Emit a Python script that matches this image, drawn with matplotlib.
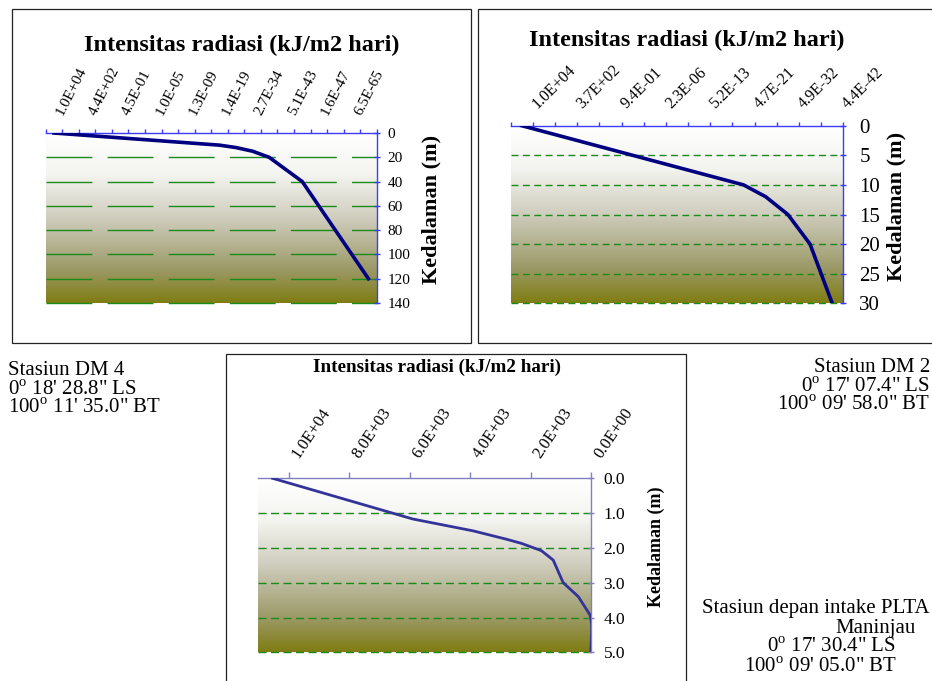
import matplotlib
matplotlib.use("Agg")
import matplotlib.pyplot as plt
from matplotlib.patches import Rectangle
from matplotlib.colors import LinearSegmentedColormap
from matplotlib.transforms import ScaledTranslation
import numpy as np

plt.rcParams["font.family"] = ["Liberation Serif", "DejaVu Serif"]
plt.rcParams["mathtext.fontset"] = "custom"
plt.rcParams["mathtext.rm"] = "Liberation Serif"

# --- data -------------------------------------------------------------
# Stasiun DM 4 (category axis, one category per depth)
dm4_depth = [0, 1, 2, 3, 4, 5, 6, 7, 8, 9, 10, 12, 15, 20, 30, 40, 60, 80, 100, 120]
dm4_labels = ["1.0E+04", "4.4E+02", "4.5E-01", "1.0E-05", "1.3E-09",
              "1.4E-19", "2.7E-34", "5.1E-43", "1.6E-47", "6.5E-65"]
dm4_yticks = [0, 20, 40, 60, 80, 100, 120, 140]

# Stasiun DM 2
dm2_depth = [0, 1, 2, 3, 4, 5, 6, 7, 8, 9, 10, 12, 15, 20, 30]
dm2_labels = ["1.0E+04", "3.7E+02", "9.4E-01", "2.3E-06",
              "5.2E-13", "4.7E-21", "4.9E-32", "4.4E-42"]
dm2_yticks = [0, 5, 10, 15, 20, 25, 30]

# Stasiun depan intake PLTA Maninjau (value axis)
pl_int = [10530, 5890, 3900, 2800, 2300, 1640, 1250, 920, 420, 30, -20, -20, 10]
pl_depth = [0, 1.17, 1.51, 1.75, 1.87, 2.08, 2.35, 3.0, 3.4, 3.93, 4.17, 4.45, 5.0]
pl_xticks = [10000, 8000, 6000, 4000, 2000, 0]
pl_yticks = [0, 1, 2, 3, 4, 5]

title = "Intensitas radiasi (kJ/m2 hari)"
ylab = "Kedalaman (m)"

txt_dm4 = ["Stasiun DM 4", "0$^{\\mathrm{o}}$ 18' 28.8\" LS", "100$^{\\mathrm{o}}$ 11' 35.0\" BT"]
txt_dm2 = ["Stasiun DM 2", "0$^{\\mathrm{o}}$ 17' 07.4\" LS", "100$^{\\mathrm{o}}$ 09' 58.0\" BT"]
txt_pl = ["Stasiun depan intake PLTA", "Maninjau", "0$^{\\mathrm{o}}$ 17' 30.4\" LS",
          "100$^{\\mathrm{o}}$ 09' 05.0\" BT"]

W, H = 932, 681
fig = plt.figure(figsize=(W / 100, H / 100), dpi=100)
fig.patch.set_facecolor("white")

grad = LinearSegmentedColormap.from_list(
    "bg", [(0, "#ffffff"), (0.25, "#f3f3ef"), (0.5, "#cfcdbd"),
           (0.8, "#9c9a68"), (1.0, "#7f7d12")])


def px_axes(x0, y0, x1, y1):
    return fig.add_axes([x0 / W, 1 - y1 / H, (x1 - x0) / W, (y1 - y0) / H])


def frame(x0, y0, x1, y1):
    fig.add_artist(Rectangle((x0 / W, 1 - y1 / H), (x1 - x0) / W, (y1 - y0) / H,
                             transform=fig.transFigure, fill=False,
                             ec="#222222", lw=0.9, clip_on=False))


def setup(ax, spine_col, ylim, yticks, ysize, ypad, grid_dash, grid_col):
    g = np.linspace(0, 1, 256).reshape(-1, 1)
    ax.imshow(g, cmap=grad, aspect="auto", extent=[0, 1, 0, 1],
              transform=ax.transAxes, zorder=0, interpolation="bilinear")
    for s in ["left", "bottom"]:
        ax.spines[s].set_visible(False)
    for s in ["top", "right"]:
        ax.spines[s].set_color(spine_col)
        ax.spines[s].set_linewidth(1.0)
    ax.xaxis.tick_top()
    ax.yaxis.tick_right()
    ax.set_ylim(ylim[1], ylim[0])
    ax.set_yticks(yticks)
    ax.tick_params(axis="y", direction="inout", length=5, width=1,
                   color=spine_col, labelsize=ysize, pad=ypad)
    ax.tick_params(axis="x", direction="out", length=3, width=1,
                   color=spine_col, labeltop=False)
    xl = ax.get_xlim()
    ax.hlines(yticks[1:], xl[0], xl[1], colors=grid_col, lw=1.0,
              linestyles=[(0, grid_dash)], zorder=1, clip_on=False)
    ax.set_xlim(xl)


def top_labels(ax, xs, labels, rot, size, dx, dy):
    tr = ax.get_xaxis_transform() + ScaledTranslation(dx / 100, dy / 100, fig.dpi_scale_trans)
    for x, lab in zip(xs, labels):
        ax.text(x, 1, lab, rotation=rot, rotation_mode="anchor", ha="left",
                va="baseline", transform=tr, fontsize=size, clip_on=False)


# --- panel 1: DM 4 ----------------------------------------------------
frame(12, 9, 471, 343)
ax1 = px_axes(45.7, 133, 376.7, 303)
n1 = len(dm4_depth)
ax1.set_xlim(0, n1)
ax1.set_xticks(np.arange(n1 + 1))
setup(ax1, "#3c3cff", (0, 140), dm4_yticks, 11, 5.5, (33, 11), "#1a8a1a")
ax1.plot(np.arange(n1) + 0.5, dm4_depth, color="#000080", lw=2.6, zorder=3,
         solid_joinstyle="round")
top_labels(ax1, np.arange(0, n1, 2) + 0.5, dm4_labels, 63, 11, 9, 16.5)
fig.text(241.7 / W, 1 - 45.7 / H, title, ha="center", va="center",
         fontsize=17.5, fontweight="bold")
fig.text(431.7 / W, 1 - 209 / H, ylab, ha="center", va="center", rotation=90,
         fontsize=16, fontweight="bold")

# --- panel 2: DM 2 ----------------------------------------------------
frame(478, 9, 945, 343)
ax2 = px_axes(510.7, 125.7, 843.3, 303.3)
n2 = len(dm2_depth)
ax2.set_xlim(0, n2)
ax2.set_xticks(np.arange(n2 + 1))
setup(ax2, "#3c3cff", (0, 30), dm2_yticks, 15, 9, (5, 3.2), "#1a8a1a")
ax2.plot(np.arange(n2) + 0.5, dm2_depth, color="#000080", lw=2.6, zorder=3,
         solid_joinstyle="round")
top_labels(ax2, np.arange(0, n2, 2) + 0.5, dm2_labels, 45, 11.5, 16, 17)
fig.text(686.7 / W, 1 - 40 / H, title, ha="center", va="center",
         fontsize=17.5, fontweight="bold")
fig.text(896.7 / W, 1 - 206.7 / H, ylab, ha="center", va="center", rotation=90,
         fontsize=16, fontweight="bold")

# --- panel 3: PLTA Maninjau ------------------------------------------
frame(226, 354, 686, 700)
ax3 = px_axes(258.3, 478.3, 591, 652.3)
ax3.set_xlim(11000, 0)
ax3.set_xticks(pl_xticks)
setup(ax3, "#8080c0", (0, 5), pl_yticks, 12.5, 6.5, (5.8, 3.2), "#1a8a1a")
ax3.tick_params(axis="x", length=4)
ax3.yaxis.set_major_formatter(matplotlib.ticker.FormatStrFormatter("%.1f"))
ax3.plot(pl_int, pl_depth, color="#333399", lw=2.0, zorder=3)
top_labels(ax3, pl_xticks, ["%.1E" % v for v in pl_xticks], 56, 12, 10, 19)
fig.text(436.7 / W, 1 - 367 / H, title, ha="center", va="center",
         fontsize=13.8, fontweight="bold")
fig.text(656.7 / W, 1 - 547 / H, ylab, ha="center", va="center", rotation=90,
         fontsize=13, fontweight="bold")

# --- station notes ----------------------------------------------------
for s, y in zip(txt_dm4, [375, 395, 413]):
    fig.text(8.3 / W, 1 - y / H, s, ha="left", va="baseline", fontsize=15)
for s, y in zip(txt_dm2, [372.5, 391.5, 410.5]):
    fig.text(930 / W, 1 - y / H, s, ha="right", va="baseline", fontsize=15)
for s, x, y in zip(txt_pl, [702, 835, 767, 744], [613.5, 632.5, 651.5, 671.5]):
    fig.text(x / W, 1 - y / H, s, ha="left", va="baseline", fontsize=15)

fig.savefig("out.png", dpi=100)
